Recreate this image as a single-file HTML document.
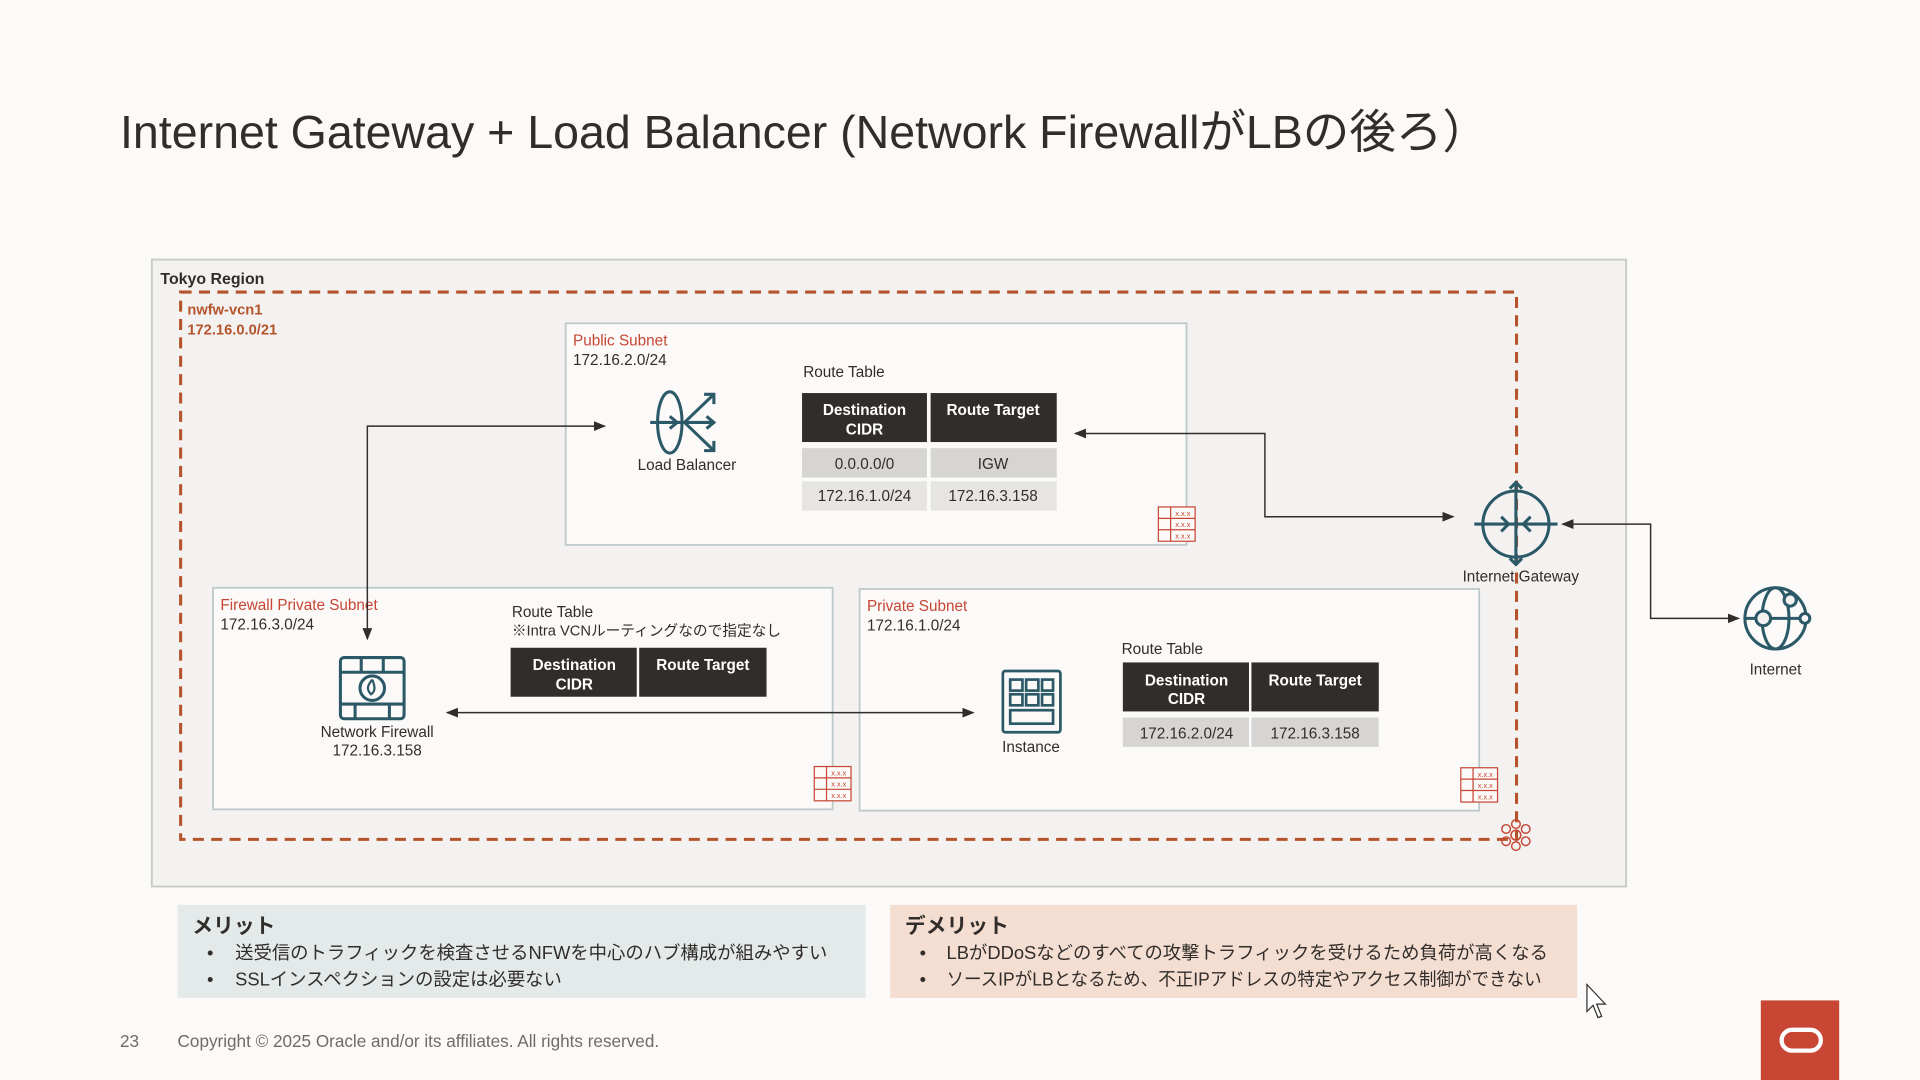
<!DOCTYPE html>
<html><head><meta charset="utf-8"><style>
html,body{margin:0;padding:0;background:#fbfaf8;}
svg{display:block;}
text{font-family:"Liberation Sans","Noto Sans CJK JP",sans-serif;}
</style></head><body>
<svg width="1920" height="1080" viewBox="0 0 1568 882" xmlns="http://www.w3.org/2000/svg">
<defs>
<marker id="ah" markerWidth="10" markerHeight="8" refX="9" refY="4" orient="auto" markerUnits="userSpaceOnUse"><path d="M0,0 L10,4 L0,8 z" fill="#312d2a"/></marker>
<marker id="as" markerWidth="10" markerHeight="8" refX="1" refY="4" orient="auto" markerUnits="userSpaceOnUse"><path d="M10,0 L0,4 L10,8 z" fill="#312d2a"/></marker>
<g id="rt">
<rect x="0" y="0" width="30" height="28" fill="#fbfaf8" stroke="#c74634" stroke-width="1"/>
<line x1="0" y1="9.3" x2="30" y2="9.3" stroke="#c74634"/><line x1="0" y1="18.6" x2="30" y2="18.6" stroke="#c74634"/>
<line x1="10" y1="0" x2="10" y2="28" stroke="#c74634"/>
<text x="20" y="7.5" font-size="6" fill="#c74634" text-anchor="middle">x.x.x</text>
<text x="20" y="16.5" font-size="6" fill="#c74634" text-anchor="middle">x.x.x</text>
<text x="20" y="25.8" font-size="6" fill="#c74634" text-anchor="middle">x.x.x</text>
</g>
</defs>
<rect width="1568" height="882" fill="#fbfaf8"/>
<text x="98" y="121" font-size="38" fill="#312d2a">Internet Gateway + Load Balancer (Network FirewallがLBの後ろ）</text>

<rect x="124" y="212" width="1204" height="512" fill="#f3f2f1" stroke="#c9c9c7" stroke-width="1.5"/>
<text x="131" y="232" font-size="13" font-weight="bold" fill="#312d2a">Tokyo Region</text>
<rect x="147.5" y="238.5" width="1091" height="447" fill="none" stroke="#b5532a" stroke-width="2.5" stroke-dasharray="9,6"/>
<text x="153" y="257" font-size="12" font-weight="bold" fill="#b5532a">nwfw-vcn1</text>
<text x="153" y="273" font-size="12" font-weight="bold" fill="#b5532a">172.16.0.0/21</text>

<rect x="462" y="264" width="507" height="181" fill="#fbfaf9" stroke="#bdcacc" stroke-width="1.5"/>
<text x="468" y="282" font-size="12.5" fill="#c74634">Public Subnet</text>
<text x="468" y="298" font-size="12.5" fill="#312d2a">172.16.2.0/24</text>
<rect x="174" y="480" width="506" height="181" fill="#fbfaf9" stroke="#bdcacc" stroke-width="1.5"/>
<text x="180" y="498" font-size="12.5" fill="#c74634">Firewall Private Subnet</text>
<text x="180" y="514" font-size="12.5" fill="#312d2a">172.16.3.0/24</text>
<rect x="702" y="481" width="506" height="181" fill="#fbfaf9" stroke="#bdcacc" stroke-width="1.5"/>
<text x="708" y="499" font-size="12.5" fill="#c74634">Private Subnet</text>
<text x="708" y="515" font-size="12.5" fill="#312d2a">172.16.1.0/24</text>

<text x="656" y="308" font-size="12.5" fill="#312d2a">Route Table</text>
<rect x="655" y="321" width="102" height="40" fill="#312d2a"/><rect x="760" y="321" width="103" height="40" fill="#312d2a"/>
<text x="706" y="339" font-size="12.5" font-weight="bold" fill="#fff" text-anchor="middle">Destination</text>
<text x="706" y="355" font-size="12.5" font-weight="bold" fill="#fff" text-anchor="middle">CIDR</text>
<text x="811" y="339" font-size="12.5" font-weight="bold" fill="#fff" text-anchor="middle">Route Target</text>
<rect x="655" y="366" width="102" height="24" fill="#d6d5d3"/><rect x="760" y="366" width="103" height="24" fill="#d6d5d3"/>
<text x="706" y="383" font-size="12.5" fill="#312d2a" text-anchor="middle">0.0.0.0/0</text>
<text x="811" y="383" font-size="12.5" fill="#312d2a" text-anchor="middle">IGW</text>
<rect x="655" y="393" width="102" height="24" fill="#e6e5e3"/><rect x="760" y="393" width="103" height="24" fill="#e6e5e3"/>
<text x="706" y="409" font-size="12.5" fill="#312d2a" text-anchor="middle">172.16.1.0/24</text>
<text x="811" y="409" font-size="12.5" fill="#312d2a" text-anchor="middle">172.16.3.158</text>
<use href="#rt" x="946" y="414"/>

<text x="418" y="504" font-size="12.5" fill="#312d2a">Route Table</text>
<text x="418" y="519" font-size="12" fill="#312d2a">※Intra VCNルーティングなので指定なし</text>
<rect x="417" y="529" width="103" height="40" fill="#312d2a"/><rect x="522" y="529" width="104" height="40" fill="#312d2a"/>
<text x="469" y="547" font-size="12.5" font-weight="bold" fill="#fff" text-anchor="middle">Destination</text>
<text x="469" y="563" font-size="12.5" font-weight="bold" fill="#fff" text-anchor="middle">CIDR</text>
<text x="574" y="547" font-size="12.5" font-weight="bold" fill="#fff" text-anchor="middle">Route Target</text>
<use href="#rt" x="665" y="626"/>

<text x="916" y="534" font-size="12.5" fill="#312d2a">Route Table</text>
<rect x="917" y="541" width="103" height="40" fill="#312d2a"/><rect x="1022" y="541" width="104" height="40" fill="#312d2a"/>
<text x="969" y="560" font-size="12.5" font-weight="bold" fill="#fff" text-anchor="middle">Destination</text>
<text x="969" y="575" font-size="12.5" font-weight="bold" fill="#fff" text-anchor="middle">CIDR</text>
<text x="1074" y="560" font-size="12.5" font-weight="bold" fill="#fff" text-anchor="middle">Route Target</text>
<rect x="917" y="586" width="103" height="24" fill="#d6d5d3"/><rect x="1022" y="586" width="104" height="24" fill="#d6d5d3"/>
<text x="969" y="603" font-size="12.5" fill="#312d2a" text-anchor="middle">172.16.2.0/24</text>
<text x="1074" y="603" font-size="12.5" fill="#312d2a" text-anchor="middle">172.16.3.158</text>
<use href="#rt" x="1193" y="627"/>

<g stroke="#c74634" fill="none" stroke-width="1.2">
<circle cx="1238" cy="682" r="4"/><circle cx="1238" cy="673" r="3.5"/><circle cx="1238" cy="691" r="3.5"/>
<circle cx="1230" cy="677" r="3.5"/><circle cx="1246" cy="677" r="3.5"/><circle cx="1230" cy="687" r="3.5"/><circle cx="1246" cy="687" r="3.5"/>
</g>

<g stroke="#2c5967" stroke-width="2.5" fill="none">
<ellipse cx="547" cy="345" rx="10" ry="25"/>
<line x1="531" y1="345" x2="583" y2="345"/>
<line x1="559" y1="345" x2="583" y2="322"/><line x1="559" y1="345" x2="583" y2="368"/>
<path d="M575,322 h8 v8 M577,340 l6,5 l-6,5 M575,368 h8 v-8 M547,340 l6,5 l-6,5"/>
</g>
<text x="561" y="384" font-size="12.5" fill="#312d2a" text-anchor="middle">Load Balancer</text>

<g stroke="#2c5967" stroke-width="2.5" fill="none">
<rect x="278" y="537" width="52" height="50" rx="3"/>
<line x1="278" y1="549" x2="330" y2="549"/><line x1="278" y1="575" x2="330" y2="575"/>
<line x1="295" y1="537" x2="295" y2="549"/><line x1="313" y1="537" x2="313" y2="549"/>
<line x1="290" y1="575" x2="290" y2="587"/><line x1="318" y1="575" x2="318" y2="587"/>
<circle cx="304" cy="562" r="10"/>
<path d="M304,555 c-4,5 -5,8 -1,12 c3,-2 4,-5 1,-12" stroke-width="1.8"/>
</g>
<text x="308" y="602" font-size="12.5" fill="#312d2a" text-anchor="middle">Network Firewall</text>
<text x="308" y="617" font-size="12.5" fill="#312d2a" text-anchor="middle">172.16.3.158</text>

<g stroke="#2c5967" stroke-width="2.2" fill="none">
<rect x="819" y="548" width="47" height="50" rx="2"/>
<rect x="825" y="555" width="10" height="9"/><rect x="838" y="555" width="10" height="9"/><rect x="851" y="555" width="9" height="9"/>
<rect x="825" y="567" width="10" height="9"/><rect x="838" y="567" width="10" height="9"/><rect x="851" y="567" width="9" height="9"/>
<rect x="825" y="580" width="35" height="11"/>
</g>
<text x="842" y="614" font-size="12.5" fill="#312d2a" text-anchor="middle">Instance</text>

<g stroke="#2c5967" stroke-width="2.5" fill="none">
<circle cx="1238" cy="428" r="27"/>
<line x1="1238" y1="394" x2="1238" y2="461"/><line x1="1204" y1="428" x2="1272" y2="428"/>
<path d="M1233,399 l5,-5 l5,5 M1233,456 l5,5 l5,-5 M1226,422 l6,6 l-6,6 M1250,422 l-6,6 l6,6"/>
</g>
<text x="1242" y="475" font-size="12.5" fill="#312d2a" text-anchor="middle">Internet Gateway</text>

<g stroke="#2c5967" stroke-width="2.5" fill="none">
<circle cx="1450" cy="505" r="25"/>
<ellipse cx="1450" cy="505" rx="11" ry="25"/>
<line x1="1425" y1="505" x2="1475" y2="505"/>
<circle cx="1440" cy="505" r="6" fill="#f3f2f1"/><circle cx="1462" cy="490" r="5" fill="#f3f2f1"/><circle cx="1474" cy="505" r="4" fill="#fbfaf8"/>
</g>
<text x="1450" y="551" font-size="12.5" fill="#312d2a" text-anchor="middle">Internet</text>

<g stroke="#312d2a" stroke-width="1.2" fill="none">
<polyline points="300,522 300,348 494,348" marker-start="url(#as)" marker-end="url(#ah)"/>
<polyline points="878,354 1033,354 1033,422 1187,422" marker-start="url(#as)" marker-end="url(#ah)"/>
<polyline points="1276,428 1348,428 1348,505 1420,505" marker-start="url(#as)" marker-end="url(#ah)"/>
<line x1="365" y1="582" x2="795" y2="582" marker-start="url(#as)" marker-end="url(#ah)"/>
</g>

<rect x="145" y="739" width="562" height="76" fill="#e4eaea"/>
<text x="157" y="762" font-size="17" font-weight="bold" fill="#312d2a">メリット</text>
<text x="169" y="783" font-size="15" fill="#312d2a">•</text>
<text x="192" y="783" font-size="15" fill="#312d2a">送受信のトラフィックを検査させるNFWを中心のハブ構成が組みやすい</text>
<text x="169" y="805" font-size="15" fill="#312d2a">•</text>
<text x="192" y="805" font-size="15" fill="#312d2a">SSLインスペクションの設定は必要ない</text>
<rect x="727" y="739" width="561" height="76" fill="#f4ded2"/>
<text x="739" y="762" font-size="17" font-weight="bold" fill="#312d2a">デメリット</text>
<text x="751" y="783" font-size="15" fill="#312d2a">•</text>
<text x="773" y="783" font-size="15" fill="#312d2a">LBがDDoSなどのすべての攻撃トラフィックを受けるため負荷が高くなる</text>
<text x="751" y="805" font-size="15" fill="#312d2a">•</text>
<text x="773" y="805" font-size="15" fill="#312d2a" textLength="486" lengthAdjust="spacingAndGlyphs">ソースIPがLBとなるため、不正IPアドレスの特定やアクセス制御ができない</text>

<path d="M1296,804 L1296,826 L1301,821 L1305,831 L1308,830 L1304,820 L1311,820 Z" fill="#fff" stroke="#312d2a" stroke-width="1"/>

<text x="98" y="855" font-size="14" fill="#6f6b67">23</text>
<text x="145" y="855" font-size="14" fill="#6f6b67">Copyright © 2025 Oracle and/or its affiliates. All rights reserved.</text>
<rect x="1438" y="817" width="64" height="65" fill="#c74634"/>
<rect x="1455" y="841" width="32" height="17" rx="8.5" fill="none" stroke="#fff" stroke-width="3.5"/>
</svg>
</body></html>
